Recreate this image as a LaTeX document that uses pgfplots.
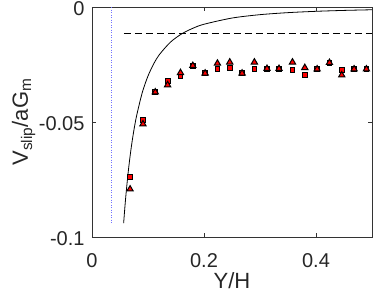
\documentclass[border=0pt]{standalone}
\usepackage{fontspec}
\setmainfont{Liberation Sans}
\usepackage{pgfplots}
\pgfplotsset{compat=1.18}
\definecolor{dotblue}{rgb}{0.45,0.45,1}
\begin{document}
\begin{tikzpicture}[x=1pt,y=1pt]
\begin{axis}[
  scale only axis, width=280pt, height=230pt,
  at={(0,0)}, anchor=south west,
  xmin=0, xmax=0.5, ymin=-0.1, ymax=0,
  xtick={0,0.2,0.4}, xticklabels={0,0.2,0.4},
  ytick={-0.1,-0.05,0}, yticklabels={-0.1,-0.05,0},
  tick align=inside, tick pos=both,
  major tick length=4pt,
  axis line style={draw=black!80, line width=0.6pt},
  every tick/.style={draw=black!80, line width=0.6pt},
  ticklabel style={font=\fontsize{20}{24}\selectfont, text=black!85},
  xticklabel style={yshift=-13pt},
  yticklabel style={xshift=-4pt, yshift=-2pt},
  label style={font=\fontsize{22}{26}\selectfont, text=black!85},
  xlabel={Y/H}, ylabel={V\textsubscript{slip}/aG\textsubscript{m}},
  xlabel style={at={(axis description cs:0.5,-0.226)}, anchor=base},
  ylabel style={at={(axis description cs:-0.2286,0.5)}, anchor=base},
  clip=false,
]
\addplot[color=dotblue, solid, line width=1pt, dash pattern=on 1pt off 1.5pt] coordinates {(0.034,0) (0.034,-0.094)};
\addplot[black, line width=0.8pt, dash pattern=on 7pt off 4pt] coordinates {(0.057,-0.0113) (0.5,-0.0113)};
\addplot[black, line width=0.8pt, smooth] coordinates {
(0.0565,-0.0940) (0.06,-0.0833) (0.065,-0.0710) (0.07,-0.0612) (0.075,-0.0533)
(0.08,-0.0469) (0.09,-0.0370) (0.10,-0.0300) (0.11,-0.0248) (0.12,-0.0208)
(0.14,-0.0153) (0.16,-0.0117) (0.18,-0.00926) (0.20,-0.0075) (0.25,-0.0048)
(0.30,-0.00333) (0.35,-0.00245) (0.40,-0.001875) (0.45,-0.00148) (0.50,-0.0012)};
\addplot[only marks, mark=square*, mark size=2.4pt, mark options={draw=black, fill=red, line width=1pt}] coordinates {
(0.068,-0.074) (0.091,-0.049) (0.113,-0.037) (0.135,-0.032) (0.158,-0.030)
(0.180,-0.0255) (0.202,-0.0288) (0.224,-0.027) (0.246,-0.0265) (0.268,-0.0288)
(0.290,-0.0268) (0.3125,-0.0268) (0.334,-0.0268) (0.358,-0.0274) (0.380,-0.0297)
(0.402,-0.027) (0.424,-0.0242) (0.446,-0.0274) (0.468,-0.027) (0.490,-0.027)};
\addplot[only marks, mark=triangle*, mark size=3.6pt, mark options={draw=black, fill=red, line width=1pt}] coordinates {
(0.068,-0.0792) (0.091,-0.0509) (0.113,-0.037) (0.135,-0.0339) (0.158,-0.0286)
(0.180,-0.0255) (0.202,-0.0288) (0.224,-0.0245) (0.246,-0.024) (0.268,-0.0288)
(0.290,-0.024) (0.3125,-0.0268) (0.334,-0.0268) (0.358,-0.024) (0.380,-0.0264)
(0.402,-0.027) (0.424,-0.0242) (0.446,-0.0296) (0.468,-0.027) (0.490,-0.027)};
\end{axis}
\pgfresetboundingbox
\useasboundingbox (-92pt,-56pt) rectangle (282pt,237pt);
\end{tikzpicture}
\end{document}
